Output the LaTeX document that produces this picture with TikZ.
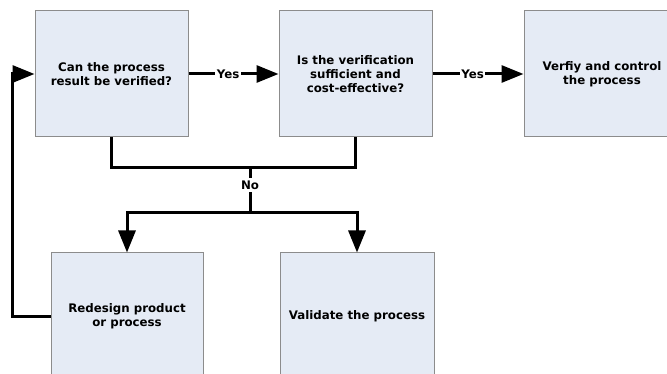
\documentclass[tikz,border=0pt]{standalone}
\usepackage{fontspec}
\setmainfont{DejaVu Sans}
\usetikzlibrary{arrows.meta}
\definecolor{boxfill}{HTML}{E5EBF5}
\definecolor{boxline}{HTML}{8C8C8C}
\begin{document}
\begin{tikzpicture}[x=1pt,y=-1pt,
  font=\fontsize{11.8}{14.3}\selectfont\bfseries,
  procbox/.style={draw=boxline, line width=1pt, fill=boxfill, align=center, inner sep=0pt},
  conn/.style={line width=3pt, draw=black},
  arr/.style={conn, -{Triangle[length=22pt,width=17pt]}},
  lbl/.style={fill=white, inner xsep=1.5pt, inner ysep=3pt}]
\useasboundingbox (0,0) rectangle (667,374);
\fill[white] (0,0) rectangle (667,374);
\node[procbox, minimum width=153pt, minimum height=126pt] (q1) at (111.5,74) {Can the process\\result be verified?};
\node[procbox, minimum width=153pt, minimum height=126pt] (q2) at (355.5,74) {Is the verification\\sufficient and\\cost-effective?};
\node[procbox, minimum width=156pt, minimum height=126pt] (vc) at (602,74) {Verfiy and control\\the process};
\node[procbox, minimum width=152pt, minimum height=126pt] (rd) at (127,316) {Redesign product\\or process};
\node[procbox, minimum width=154pt, minimum height=126pt] (va) at (357,316) {Validate the process};
\coordinate (j1) at (250,168);
\coordinate (j2) at (250,213);
\coordinate (fb) at (12,316);
\draw[arr] (q1.east) -- node[lbl, pos=0.44] {Yes} (q2.west);
\draw[arr] (q2.east) -- node[lbl, pos=0.44] {Yes} (vc.west);
\draw[conn] (q1.south) |- (j1) -| (q2.south);
\draw[conn] (j1) -- node[lbl, pos=0.38] {No} (j2);
\draw[arr] (j2) -| (rd.north);
\draw[arr] (j2) -| (va.north);
\draw[arr] (rd.west) -- (fb) |- (q1.west);
\end{tikzpicture}
\end{document}
